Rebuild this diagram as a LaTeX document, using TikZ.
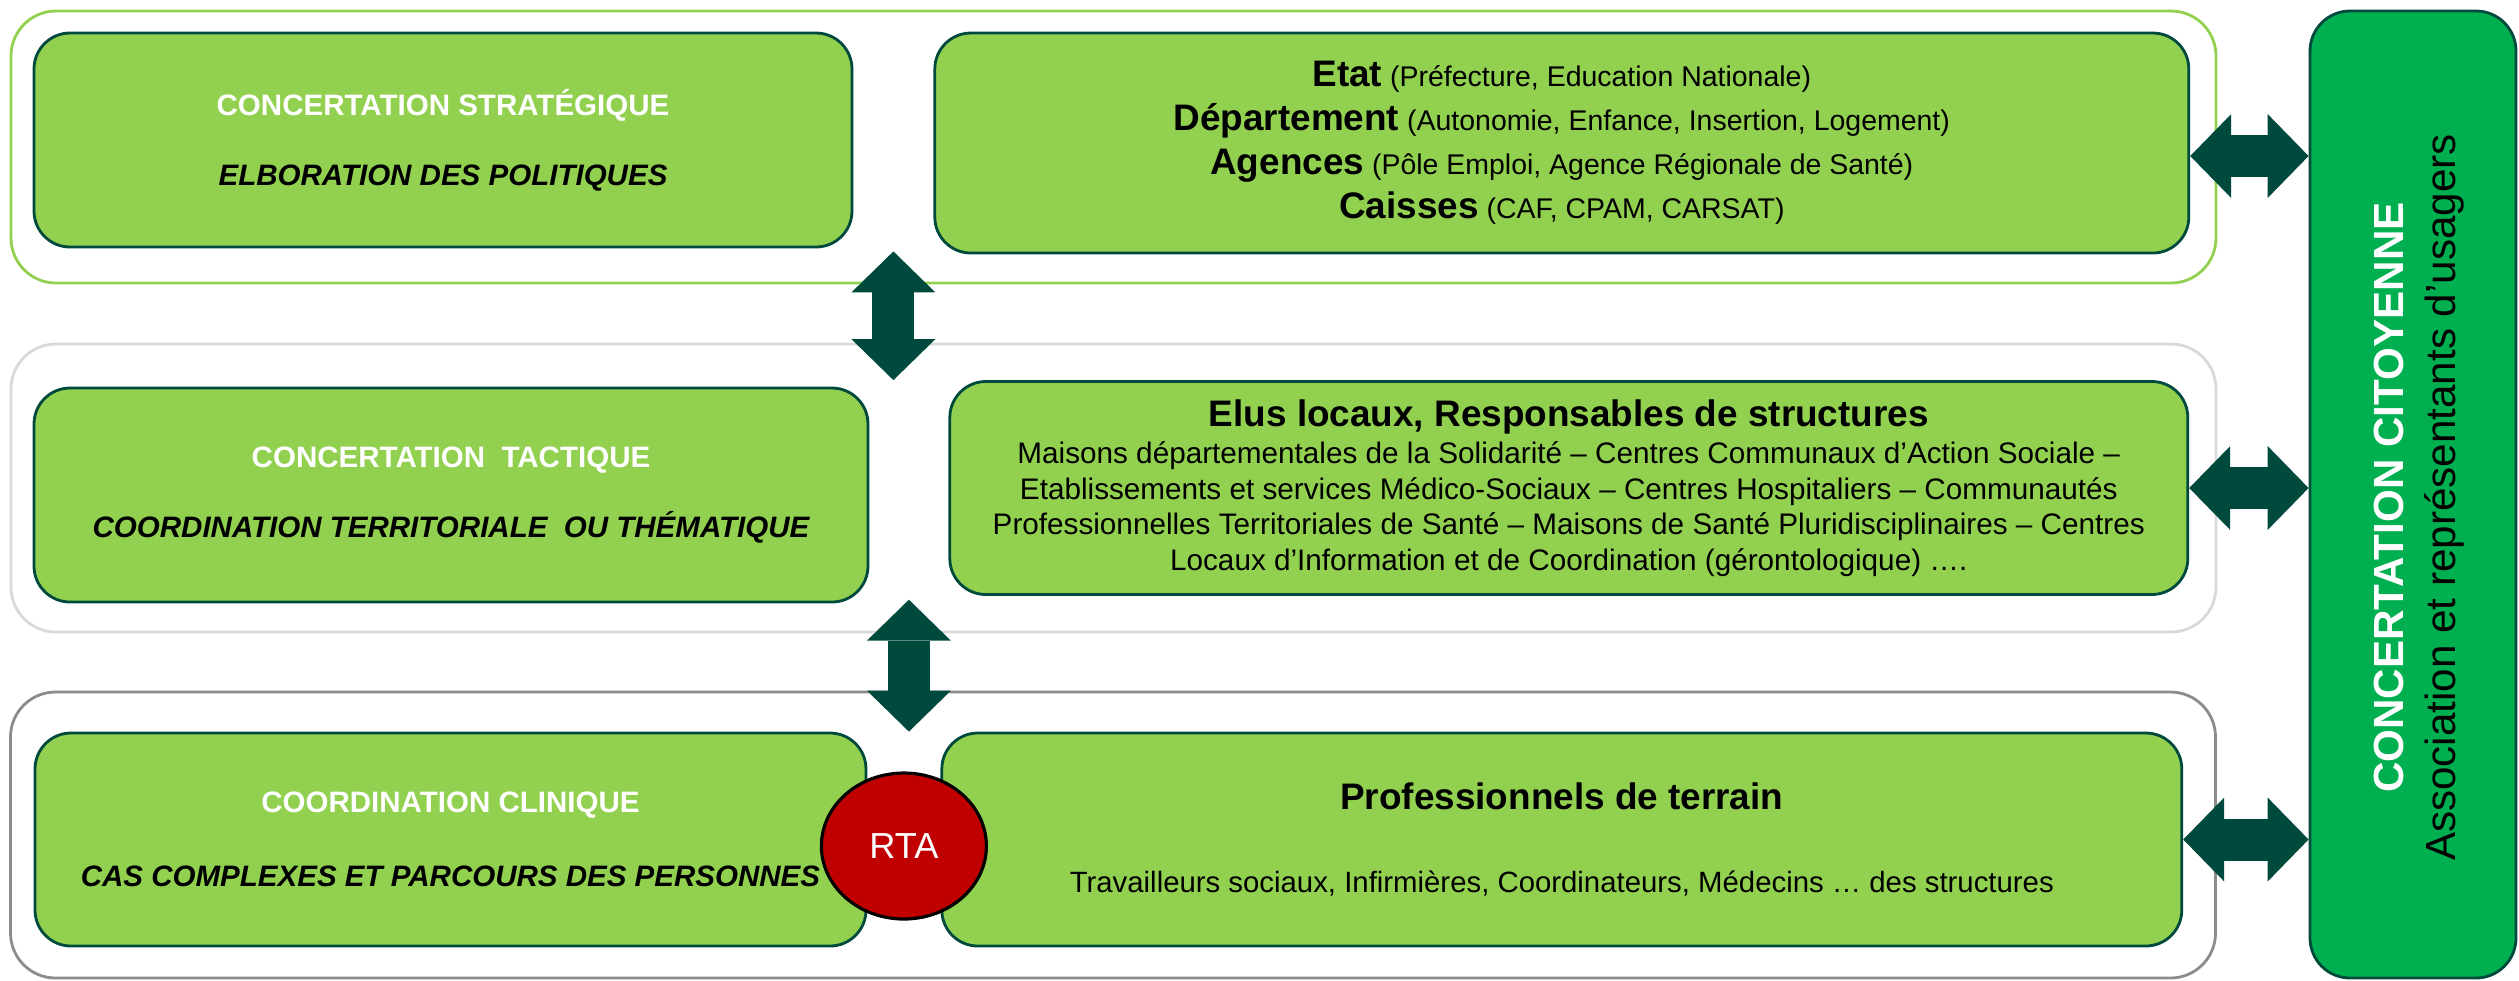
\documentclass[tikz,border=0pt]{standalone}
\usepackage{fontspec}
\setmainfont{Liberation Sans}
\usetikzlibrary{positioning, arrows.meta, calc, shapes.geometric}

\definecolor{boxgreen}{HTML}{92D050}
\definecolor{darkteal}{HTML}{004A3D}
\definecolor{citgreen}{HTML}{00B050}
\definecolor{rtared}{HTML}{C00000}
\definecolor{panelgray}{HTML}{D9D9D9}
\definecolor{midgray}{HTML}{8C8C8C}
\newcommand{\boxhead}{\fontsize{10.5}{12.5}\selectfont\bfseries}

\begin{document}
\begin{tikzpicture}[auto, node distance=0.8cm, >={Triangle[length=0.41cm, width=0.84cm, line width=0pt]},
        panel/.style = {draw, rectangle, rounded corners=0.45cm, line width=0.8pt, minimum width=22.05cm, inner sep=0pt},
        box/.style = {draw=darkteal, fill=boxgreen, rectangle, rounded corners=0.36cm, line width=0.8pt, minimum height=2.14cm, align=center, inner sep=0pt, font=\fontsize{8.4}{10}\selectfont\bfseries},
        info/.style = {box, font=\fontsize{8.45}{10.1}\selectfont},
        rta/.style = {draw=black, fill=rtared, ellipse, line width=0.9pt, minimum width=1.65cm, minimum height=1.46cm, inner sep=0pt, text=white, font=\fontsize{10.3}{12}\selectfont},
        citizen/.style = {draw=darkteal, fill=citgreen, rectangle, rounded corners=0.4cm, line width=0.8pt, minimum width=2.06cm, minimum height=9.67cm},
        link/.style = {<->, darkteal, line width=0.42cm},
        ]
        \useasboundingbox (0,0) rectangle (25.19,-9.80);
        \node [panel, draw=boxgreen, minimum height=2.72cm] (Pstrat) at (11.135,-1.47) {};
        \node [panel, draw=panelgray, minimum height=2.88cm] (Ptact) at (11.135,-4.88) {};
        \node [panel, draw=midgray, minimum height=2.86cm] (Pclin) at (11.13,-8.35) {};

        \node [box, minimum width=8.18cm] (Astrat) at (4.43,-1.40) {{\color{white}CONCERTATION STRATÉGIQUE}\\[9.9pt]{\itshape ELBORATION DES POLITIQUES}};
        \node [info, minimum width=12.54cm, minimum height=2.2cm, right=0.8 of Astrat, yshift=-0.03cm, font=\fontsize{8.1}{12.5}\selectfont] (Bstrat) {{\boxhead Etat} (Préfecture, Education Nationale)\\{\boxhead Département} (Autonomie, Enfance, Insertion, Logement)\\{\boxhead Agences} (Pôle Emploi, Agence Régionale de Santé)\\{\boxhead Caisses} (CAF, CPAM, CARSAT)};

        \node [box, minimum width=8.34cm] (Atact) at (4.51,-4.95) {{\color{white}CONCERTATION \ TACTIQUE}\\[9.9pt]{\itshape COORDINATION TERRITORIALE \ OU THÉMATIQUE}};
        \node [info, minimum width=12.38cm, minimum height=2.13cm, right=0.79 of Atact, yshift=0.07cm] (Btact) {{\boxhead Elus locaux, Responsables de structures}\\[0.4pt]Maisons départementales de la Solidarité – Centres Communaux d’Action Sociale –\\Etablissements et services Médico-Sociaux – Centres Hospitaliers – Communautés\\Professionnelles Territoriales de Santé – Maisons de Santé Pluridisciplinaires – Centres\\Locaux d’Information et de Coordination (gérontologique) ….};

        \node [box, minimum width=8.31cm, minimum height=2.13cm] (Aclin) at (4.505,-8.395) {{\color{white}COORDINATION CLINIQUE}\\[11pt]{\itshape CAS COMPLEXES ET PARCOURS DES PERSONNES}};
        \node [info, minimum width=12.40cm, minimum height=2.13cm, right=0.73 of Aclin, font=\fontsize{8.35}{10.1}\selectfont] (Bclin) {{\boxhead Professionnels de terrain}\\[13.5pt]Travailleurs sociaux, Infirmières, Coordinateurs, Médecins … des structures};
        \node [rta, yshift=-0.065cm] (rta) at ($(Aclin.east)!0.5!(Bclin.west)$) {RTA};

        \node [citizen] (citoyen) at (24.13,-4.945) {};
        \node [rotate=90, align=center, font=\fontsize{12}{14.8}\selectfont] (citoyentxt) at ([xshift=0.06cm, yshift=-0.03cm]citoyen.center) {{\bfseries\color{white}CONCERTATION CITOYENNE}\\Association et représentants d’usagers};

        \coordinate (v1) at ($(Astrat.south east)!0.5!(Bstrat.south west)$);
        \coordinate (v2) at ($(Atact.south east)!0.5!(Btact.south west)$);
        \draw [link] (v1) -- (v1 |- Btact.north);
        \draw [link] (v2) -- (v2 |- Bclin.north);
        \draw [link] ($(Bstrat.east)+(0,-0.13)$) -- ($(Bstrat.east -| citoyen.west)+(0,-0.13)$);
        \draw [link] (Btact.east) -- (Btact.east -| citoyen.west);
        \draw [link] (Bclin.east) -- (Bclin.east -| citoyen.west);
    \end{tikzpicture}
\end{document}
